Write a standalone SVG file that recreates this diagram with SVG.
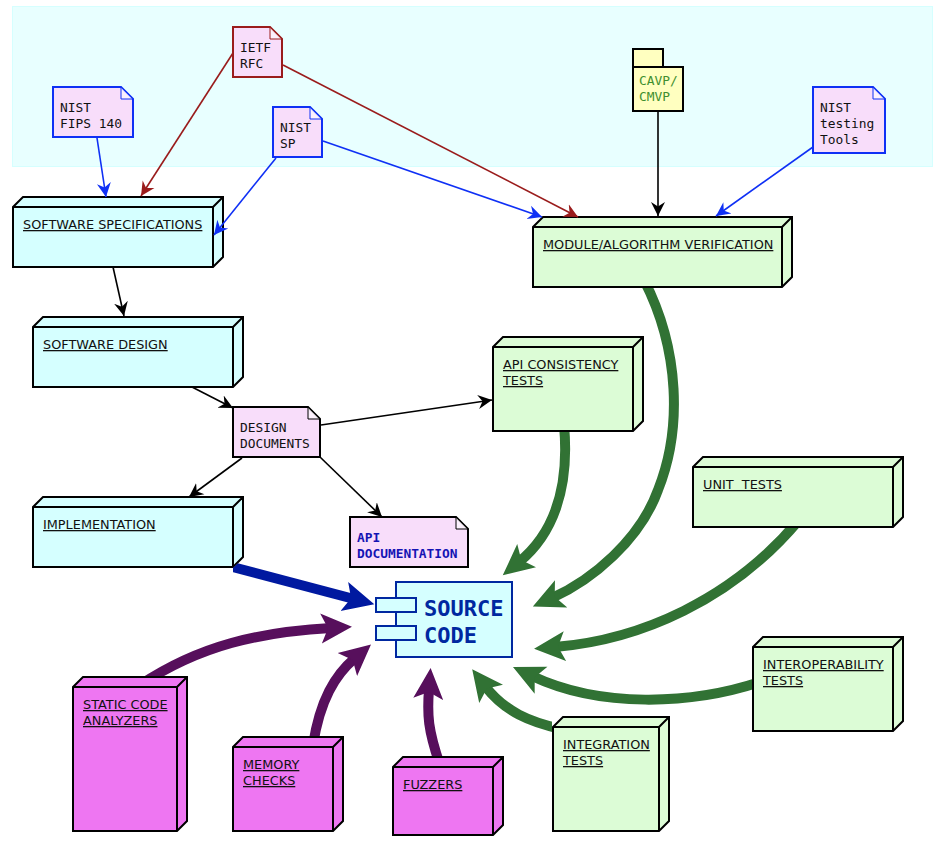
<svg xmlns="http://www.w3.org/2000/svg" width="938" height="858" viewBox="0 0 938 858">
<style>
.bg{fill:#e8ffff;stroke:#d5ffff;stroke-width:1}
.box{stroke:#000;stroke-width:2;stroke-linejoin:miter}
.cy{fill:#d5ffff}.gr{fill:#dcfcd6}.mg{fill:#ee76f2}
.note{fill:#f8ddfa;stroke-width:2}
.fold{fill:#fff;fill-opacity:.6;stroke-width:1}
.blue{stroke:#0f30f5}.red{stroke:#9a1c1c}.blk{stroke:#000}
.lbl{font:12.85px "DejaVu Sans",sans-serif;text-decoration:underline;fill:#111;white-space:pre}
.mono{font:12.9px "DejaVu Sans Mono",monospace;fill:#111}
.doc{font:bold 12.85px "DejaVu Sans Mono",monospace;fill:#1414b4}
.pkg{font:12.9px "DejaVu Sans Mono",monospace;fill:#3f8f2f}
.src{font:bold 22px "DejaVu Sans Mono",monospace;fill:#0028a0}
.thin{fill:none;stroke-width:1.6}
.thick{fill:none;stroke-width:10;clip-path:url(#outside)}
</style>
<defs>
<clipPath id="outside"><path clip-rule="evenodd" d="M0,0H938V858H0ZM532,216H793V288H532ZM492,336H644V432H492ZM692,456H904V528H692ZM752,636H904V732H752ZM552,716H670V832H552ZM72,676H188V832H72ZM232,736H344V832H232ZM392,756H504V836H392ZM32,496H244V557L233,568V585H32Z"/></clipPath>
<marker id="hb" markerUnits="userSpaceOnUse" markerWidth="15" markerHeight="16" refX="14" refY="8" orient="auto"><polygon points="0,1 14,8 0,15 4.5,8" fill="#0f30f5"/></marker>
<marker id="hr" markerUnits="userSpaceOnUse" markerWidth="15" markerHeight="16" refX="14" refY="8" orient="auto"><polygon points="0,1 14,8 0,15 4.5,8" fill="#9a1c1c"/></marker>
<marker id="hk" markerUnits="userSpaceOnUse" markerWidth="15" markerHeight="16" refX="14" refY="8" orient="auto"><polygon points="0,1 14,8 0,15 4.5,8" fill="#000"/></marker>
<marker id="tg" markerUnits="userSpaceOnUse" markerWidth="33" markerHeight="32" refX="10" refY="16" orient="auto"><polygon points="0,1 31,16 0,31 7,16" fill="#317234"/></marker>
<marker id="tp" markerUnits="userSpaceOnUse" markerWidth="33" markerHeight="32" refX="10" refY="16" orient="auto"><polygon points="0,1 31,16 0,31 7,16" fill="#570f5c"/></marker>
<marker id="tb" markerUnits="userSpaceOnUse" markerWidth="33" markerHeight="32" refX="10" refY="16" orient="auto"><polygon points="0,1 31,16 0,31 7,16" fill="#0019a0"/></marker>
</defs>
<rect class="bg" x="12.5" y="6.5" width="920" height="160"/>

<g id="fips"><path class="note blue" d="M53,87H121L133,99V137H53Z"/><path class="fold blue" d="M121,87V99H133Z"/><text class="mono" x="60" y="112">NIST</text><text class="mono" x="60" y="128">FIPS 140</text></g>
<g id="ietf"><path class="note red" d="M233,27H270L282,39V77H233Z"/><path class="fold red" d="M270,27V39H282Z"/><text class="mono" x="240" y="52">IETF</text><text class="mono" x="240" y="68">RFC</text></g>
<g id="sp"><path class="note blue" d="M273,107H310L322,119V157H273Z"/><path class="fold blue" d="M310,107V119H322Z"/><text class="mono" x="280" y="132">NIST</text><text class="mono" x="280" y="148">SP</text></g>
<g id="tools"><path class="note blue" d="M813,87H873L885,99V153H813Z"/><path class="fold blue" d="M873,87V99H885Z"/><text class="mono" x="820" y="112">NIST</text><text class="mono" x="820" y="128">testing</text><text class="mono" x="820" y="144">Tools</text></g>
<g id="cavp"><path d="M633,67V49H663V67M633,67H683V111H633Z" fill="#ffffc0" stroke="#000" stroke-width="2"/><text class="pkg" x="639" y="85">CAVP/</text><text class="pkg" x="639" y="101">CMVP</text></g>

<g id="spec"><path class="box cy" d="M13,207L23,197H223V257L213,267H13ZM13,207H213V267M213,207L223,197"/><text class="lbl" x="23" y="229">SOFTWARE SPECIFICATIONS</text></g>
<g id="design"><path class="box cy" d="M33,327L43,317H243V377L233,387H33ZM33,327H233V387M233,327L243,317"/><text class="lbl" x="43" y="349">SOFTWARE DESIGN</text></g>
<g id="impl"><path class="box cy" d="M33,507L43,497H243V557L233,567H33ZM33,507H233V567M233,507L243,497"/><text class="lbl" x="43" y="529">IMPLEMENTATION</text></g>
<g id="module"><path class="box gr" d="M533,227L543,217H792V277L782,287H533ZM533,227H782V287M782,227L792,217"/><text class="lbl" x="543" y="249">MODULE/ALGORITHM VERIFICATION</text></g>
<g id="apitests"><path class="box gr" d="M493,347L503,337H643V421L633,431H493ZM493,347H633V431M633,347L643,337"/><text class="lbl" x="503" y="369">API CONSISTENCY</text><text class="lbl" x="503" y="385">TESTS</text></g>
<g id="unit"><path class="box gr" d="M693,467L703,457H903V517L893,527H693ZM693,467H893V527M893,467L903,457"/><text class="lbl" x="703" y="489">UNIT  TESTS</text></g>
<g id="interop"><path class="box gr" d="M753,647L763,637H903V721L893,731H753ZM753,647H893V731M893,647L903,637"/><text class="lbl" x="763" y="669">INTEROPERABILITY</text><text class="lbl" x="763" y="685">TESTS</text></g>
<g id="integration"><path class="box gr" d="M553,727L563,717H669V821L659,831H553ZM553,727H659V831M659,727L669,717"/><text class="lbl" x="563" y="749">INTEGRATION</text><text class="lbl" x="563" y="765">TESTS</text></g>
<g id="static"><path class="box mg" d="M73,687L83,677H187V821L177,831H73ZM73,687H177V831M177,687L187,677"/><text class="lbl" x="83" y="709">STATIC CODE</text><text class="lbl" x="83" y="725">ANALYZERS</text></g>
<g id="memory"><path class="box mg" d="M233,747L243,737H343V821L333,831H233ZM233,747H333V831M333,747L343,737"/><text class="lbl" x="243" y="769">MEMORY</text><text class="lbl" x="243" y="785">CHECKS</text></g>
<g id="fuzzers"><path class="box mg" d="M393,767L403,757H503V825L493,835H393ZM393,767H493V835M493,767L503,757"/><text class="lbl" x="403" y="789">FUZZERS</text></g>

<g id="docs"><path class="note" stroke="#000" d="M233,407H308L320,419V457H233Z"/><path class="fold" stroke="#000" d="M308,407V419H320Z"/><text class="mono" x="240" y="432">DESIGN</text><text class="mono" x="240" y="448">DOCUMENTS</text></g>
<g id="apidoc"><path class="note" stroke="#000" d="M350,517H456L468,529V567H350Z"/><path class="fold" stroke="#000" d="M456,517V529H468Z"/><text class="doc" x="357" y="542">API</text><text class="doc" x="357" y="558">DOCUMENTATION</text></g>
<g id="source"><rect x="396" y="582" width="116" height="75" fill="#d5ffff" stroke="#0028a0" stroke-width="2"/><rect x="376" y="598" width="40" height="14" fill="#d5ffff" stroke="#0028a0" stroke-width="2"/><rect x="376" y="626" width="40" height="14" fill="#d5ffff" stroke="#0028a0" stroke-width="2"/><text class="src" x="424" y="616">SOURCE</text><text class="src" x="424" y="643">CODE</text></g>

<g id="connectors">
<path class="thin blue" marker-end="url(#hb)" d="M97,138L106,197"/>
<path class="thin red" marker-end="url(#hr)" d="M233,53L141,196"/>
<path class="thin red" marker-end="url(#hr)" d="M283,65L578,217"/>
<path class="thin blue" marker-end="url(#hb)" d="M276,158L214,235"/>
<path class="thin blue" marker-end="url(#hb)" d="M323,141L542,217"/>
<path class="thin blk" marker-end="url(#hk)" d="M658,111V216"/>
<path class="thin blue" marker-end="url(#hb)" d="M813,147L716,216"/>
<path class="thin blk" marker-end="url(#hk)" d="M113,267L124,316"/>
<path class="thin blk" marker-end="url(#hk)" d="M192,387L233,408"/>
<path class="thin blk" marker-end="url(#hk)" d="M321,425L492,400"/>
<path class="thin blk" marker-end="url(#hk)" d="M242,458L189,497"/>
<path class="thin blk" marker-end="url(#hk)" d="M320,457L382,517"/>
<path class="thick" stroke="#317234" marker-end="url(#tg)" d="M644,280C680,350 682,430 658,490C640,540 592,580 552,598"/>
<path class="thick" stroke="#317234" marker-end="url(#tg)" d="M564,425C570,490 552,535 519,562"/>
<path class="thick" stroke="#317234" marker-end="url(#tg)" d="M799,520C732,600 640,640 555,647"/>
<path class="thick" stroke="#317234" marker-end="url(#tg)" d="M760,682C690,705 600,708 532,676"/>
<path class="thick" stroke="#317234" marker-end="url(#tg)" d="M561,729C530,722 505,712 485,686"/>
<path class="thick" stroke="#570f5c" marker-end="url(#tp)" d="M440,765C428,730 427,715 429,689"/>
<path class="thick" stroke="#570f5c" marker-end="url(#tp)" d="M313,745C320,700 335,675 355,658"/>
<path class="thick" stroke="#570f5c" marker-end="url(#tp)" d="M140,685C200,645 260,632 331,628"/>
<path class="thick" stroke="#0019a0" marker-end="url(#tb)" d="M225,565L354,599"/>
</g>
</svg>
